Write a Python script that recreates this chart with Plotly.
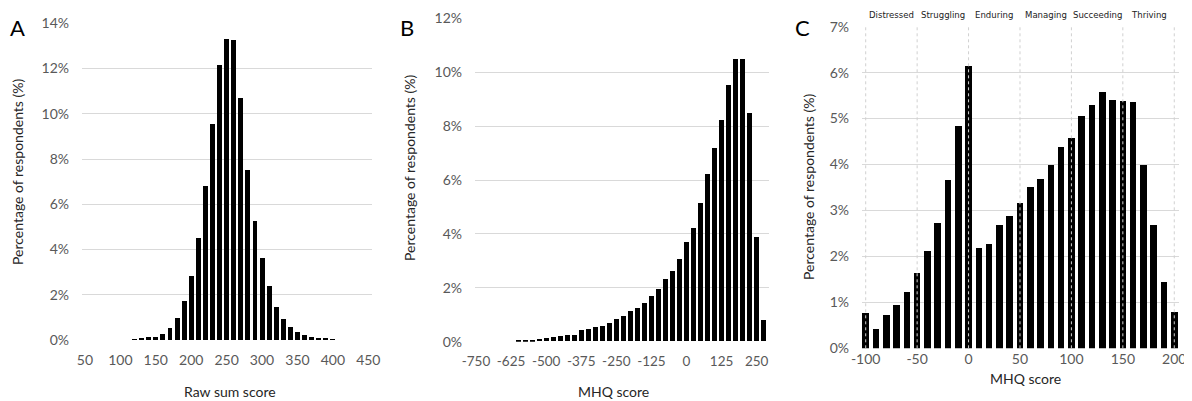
import plotly.graph_objects as go

# ---------------- data ----------------
# Panel A: raw sum score histogram (bins of 10)
a_scores = list(range(120, 410, 10))
a_pct = [0.03, 0.06, 0.10, 0.13, 0.27, 0.52, 0.96, 1.69, 2.83, 4.49, 6.80, 9.53, 12.15,
         13.28, 13.24, 10.67, 7.49, 5.23, 3.61, 2.36, 1.44, 0.93, 0.56, 0.34, 0.19,
         0.14, 0.08, 0.05, 0.03]
a_ticks = [50, 100, 150, 200, 250, 300, 350, 400, 450]

# Panel B: MHQ score histogram (bins of 25)
b_scores = list(range(-600, 300, 25))
b_pct = [0.03, 0.05, 0.07, 0.10, 0.12, 0.15, 0.19, 0.22, 0.25, 0.41, 0.47, 0.52,
         0.58, 0.70, 0.83, 0.93, 1.11, 1.23, 1.42, 1.67, 1.96, 2.31, 2.62, 3.06,
         3.67, 4.21, 5.14, 6.20, 7.19, 8.21, 9.53, 10.49, 10.48, 8.48, 3.88, 0.78]
b_ticks = [-750, -625, -500, -375, -250, -125, 0, 125, 250]

# Panel C: MHQ score histogram (bins of 10), -100..200
c_scores = list(range(-100, 210, 10))
c_pct = [0.78, 0.43, 0.74, 0.94, 1.24, 1.64, 2.13, 2.74, 3.68, 4.85, 6.16,
         2.18, 2.28, 2.69, 2.88, 3.18, 3.52, 3.70, 3.99, 4.38, 4.59,
         5.07, 5.31, 5.58, 5.41, 5.39, 5.37, 4.00, 2.70, 1.46, 0.80]
c_ticks = [-100, -50, 0, 50, 100, 150, 200]
c_bands = ["Distressed", "Struggling", "Enduring", "Managing", "Succeeding", "Thriving"]
c_band_centers = [-75, -25, 25, 75, 125, 175]

# ---------------- figure ----------------
# the page body has an 8px default margin: the figure is offset by 8px
OFF = 8
W, H = 1192 - OFF, 401 - OFF
FONT = "Lato, Carlito, Calibri, 'Open Sans', sans-serif"
NARROW = "'Liberation Sans Narrow', 'Arial Narrow', 'DejaVu Sans Condensed', 'Liberation Sans', sans-serif"
TICK_COLOR = "#595959"
TITLE_COLOR = "#262626"
GRID = "#d9d9d9"


def px(x):
    return (x - OFF) / W


def py(y):
    return 1 - (y - OFF) / H


fig = go.Figure()
fig.add_trace(go.Bar(x=a_scores, y=a_pct, width=7, marker=dict(color="black", line=dict(width=0)),
                     xaxis="x", yaxis="y", showlegend=False))
fig.add_trace(go.Bar(x=b_scores, y=b_pct, width=17.5, marker=dict(color="black", line=dict(width=0)),
                     xaxis="x2", yaxis="y2", showlegend=False))
fig.add_trace(go.Bar(x=c_scores, y=c_pct, width=6.4, marker=dict(color="black", line=dict(width=0)),
                     xaxis="x3", yaxis="y3", showlegend=False))

tickfont = dict(family=FONT, size=14, color=TICK_COLOR)

common_x = dict(showgrid=False, zeroline=False, showline=False, ticks="", tickfont=tickfont,
                tickmode="array", tickangle=0, automargin=False)
common_y = dict(showgrid=True, gridcolor=GRID, gridwidth=1, zeroline=False, showline=False,
                ticks="", tickfont=tickfont, ticksuffix="%", tickmode="linear",
                ticklabelstandoff=12, automargin=False)

fig.update_layout(
    width=W, height=H,
    margin=dict(l=0, r=0, t=0, b=0, autoexpand=False),
    paper_bgcolor="white", plot_bgcolor="white",
    bargap=0,
    font=dict(family=FONT, color=TITLE_COLOR),
    xaxis=dict(common_x, domain=[px(82), px(372)], range=[45.8, 455.2], tickvals=a_ticks,
               ticktext=[str(v) for v in a_ticks], anchor="y", ticklabelstandoff=10),
    yaxis=dict(common_y, domain=[py(340), py(23.3)], range=[0, 14], dtick=2, anchor="x"),
    xaxis2=dict(common_x, domain=[px(475), px(769)], range=[-753.6, 293.8], tickvals=b_ticks,
                ticktext=[str(v) for v in b_ticks], anchor="y2", ticklabelstandoff=10,
                tickfont=dict(family=FONT, size=13.5, color=TICK_COLOR)),
    yaxis2=dict(common_y, domain=[py(341.7), py(18.3)], range=[0, 12], dtick=2, anchor="x2"),
    xaxis3=dict(common_x, domain=[px(862), px(1179)], range=[-103.6, 204.6], tickvals=c_ticks,
                ticktext=[str(v) for v in c_ticks], anchor="y3", ticklabelstandoff=1),
    yaxis3=dict(common_y, domain=[py(348.3), py(26.7)], range=[0, 7], dtick=1, anchor="x3"),
)

# vertical dotted gridlines in panel C (drawn over bars)
for v in c_ticks:
    fig.add_shape(type="line", xref="x3", yref="y3", x0=v, x1=v, y0=0, y1=7,
                  line=dict(color="#d0d0d0", width=1, dash="dot"), layer="above")

# band labels in panel C
for name, cx in zip(c_bands, c_band_centers):
    fig.add_annotation(x=cx, xref="x3", y=py(15), yref="paper", text=name, showarrow=False,
                       font=dict(family=NARROW, size=9.5, color="#222222"),
                       xanchor="center", yanchor="middle")

# panel letters
for letter, x in [("A", 17), ("B", 407), ("C", 802)]:
    fig.add_annotation(x=px(x), y=py(27), xref="paper", yref="paper", text=letter, showarrow=False,
                       font=dict(family=FONT, size=22, color="black"), xanchor="center", yanchor="middle")

# y-axis titles
for x, yc in [(18, 172), (409, 168), (808, 187)]:
    fig.add_annotation(x=px(x), y=py(yc), xref="paper", yref="paper",
                       text="Percentage of respondents (%)", textangle=-90, showarrow=False,
                       font=dict(family=FONT, size=14, color=TITLE_COLOR),
                       xanchor="center", yanchor="middle")

# x-axis titles
for text, x, y in [("Raw sum score", 230, 391.5), ("MHQ score", 613, 391.5), ("MHQ score", 1025, 378)]:
    fig.add_annotation(x=px(x), y=py(y), xref="paper", yref="paper", text=text, showarrow=False,
                       font=dict(family=FONT, size=14, color=TITLE_COLOR),
                       xanchor="center", yanchor="middle")

fig.write_html("out.html")
